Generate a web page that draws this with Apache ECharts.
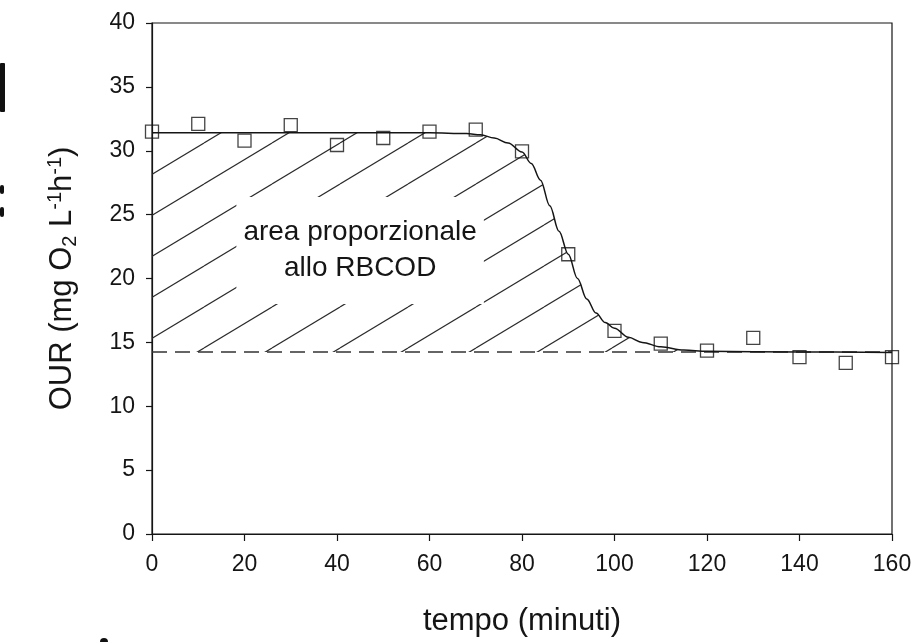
<!DOCTYPE html>
<html>
<head>
<meta charset="utf-8">
<script src="https://cdn.jsdelivr.net/npm/echarts@6/dist/echarts.min.js"></script>
<style>
  html, body { margin: 0; padding: 0; background: #fff; }
  #chart { width: 916px; height: 642px; }
</style>
</head>
<body>
<div id="chart"></div>
<script>
// Measured oxygen uptake rate (squares)
const timeMin = [0, 10, 20, 30, 40, 50, 60, 70, 80, 90, 100, 110, 120, 130, 140, 150, 160];
const ourMeasured = [31.5, 32.1, 30.8, 32.0, 30.45, 31.0, 31.5, 31.65, 29.95, 21.9, 15.9, 14.9, 14.35, 15.35, 13.85, 13.4, 13.85];

// Fitted OUR curve
const fitTime = [0, 30, 60, 68, 71, 74, 77, 80, 82, 84, 86, 88, 90, 92, 94, 96, 98, 100, 103, 106, 110, 115, 120, 140, 160];
const fitOUR = [31.4, 31.4, 31.4, 31.35, 31.25, 31.0, 30.6, 29.9, 29.0, 27.7, 25.7, 23.7, 21.9, 20.0, 18.4, 17.3, 16.55, 16.1, 15.4, 15.0, 14.65, 14.4, 14.3, 14.25, 14.2];

// Endogenous respiration level (dashed)
const baselineOUR = 14.25;
const baselineTime = [0, 160];

// Axis ranges
const xRange = { min: 0, max: 160, step: 20 };
const yRange = { min: 0, max: 40, step: 5 };

// Annotation anchor (data units) and text
const noteAt = [45, 22.2];
const noteText = 'area proporzionale\nallo RBCOD';

const FONT = '"Liberation Sans", Arial, sans-serif';
const INK = '#151515';

// Diagonal hatch tile for the area between curve and baseline
function hatchTile() {
  const w = 68, h = 41, c0 = 20;
  const cv = document.createElement('canvas');
  cv.width = w; cv.height = h;
  const ctx = cv.getContext('2d');
  ctx.strokeStyle = '#2a2a2a';
  ctx.lineWidth = 1.2;
  for (const c of [c0 - h, c0, c0 + h]) {
    ctx.beginPath();
    ctx.moveTo(0, c);
    ctx.lineTo(w, c - h);
    ctx.stroke();
  }
  return cv;
}

const chart = echarts.init(document.getElementById('chart'), null, { renderer: 'canvas' });

const option = {
  backgroundColor: '#fff',
  animation: false,
  grid: {
    left: 152, right: 24, top: 23, bottom: 106,
    show: true, borderColor: INK, borderWidth: 1.2, backgroundColor: 'transparent'
  },
  xAxis: {
    type: 'value',
    min: xRange.min, max: xRange.max, interval: xRange.step,
    name: 'tempo (minuti)',
    nameLocation: 'middle',
    nameGap: 72,
    nameTextStyle: { fontFamily: FONT, fontSize: 31, color: INK },
    axisLine: { show: true, lineStyle: { color: INK, width: 1.2 } },
    axisTick: { show: true, length: 7, lineStyle: { color: INK, width: 1.2 } },
    axisLabel: { fontFamily: FONT, fontSize: 23, color: INK, margin: 19 },
    splitLine: { show: false }
  },
  yAxis: {
    type: 'value',
    min: yRange.min, max: yRange.max, interval: yRange.step,
    name: '{t|OUR (mg O}{sub|2}{t| L}{sup|-1}{t|h}{sup|-1}{t|)}',
    nameLocation: 'middle',
    nameRotate: 90,
    nameGap: 72,
    nameTextStyle: {
      color: INK,
      rich: {
        t: { fontFamily: FONT, fontSize: 31, color: INK },
        sub: { fontFamily: FONT, fontSize: 20, color: INK, padding: [15, 0, 0, 0] },
        sup: { fontFamily: FONT, fontSize: 20, color: INK, padding: [0, 0, 15, 0] }
      }
    },
    axisLine: { show: true, lineStyle: { color: INK, width: 1.2 } },
    axisTick: { show: true, length: 6, lineStyle: { color: INK, width: 1.2 } },
    axisLabel: { fontFamily: FONT, fontSize: 23, color: INK, margin: 17 },
    splitLine: { show: false }
  },
  series: [
    {
      name: 'hatch',
      type: 'line',
      data: fitTime.map((t, i) => [t, fitOUR[i]]),
      smooth: 0.35,
      smoothMonotone: 'x',
      symbol: 'none',
      lineStyle: { width: 0 },
      areaStyle: { origin: baselineOUR, color: { image: hatchTile(), repeat: 'repeat' }, opacity: 1 },
      z: 1,
      silent: true
    },
    {
      name: 'baseline',
      type: 'line',
      data: baselineTime.map(t => [t, baselineOUR]),
      symbol: 'none',
      lineStyle: { color: '#333', width: 1.4, type: [15, 8] },
      z: 2,
      silent: true
    },
    {
      name: 'fit',
      type: 'line',
      data: fitTime.map((t, i) => [t, fitOUR[i]]),
      smooth: 0.35,
      smoothMonotone: 'x',
      symbol: 'none',
      lineStyle: { color: INK, width: 1.5 },
      z: 3,
      silent: true
    },
    {
      name: 'OUR',
      type: 'scatter',
      data: timeMin.map((t, i) => [t, ourMeasured[i]]),
      symbol: 'rect',
      symbolSize: 13,
      itemStyle: { color: 'rgba(0,0,0,0)', borderColor: INK, borderWidth: 1.3 },
      z: 4
    }
  ]
};

chart.setOption(option);

// Annotation inside the hatched area
const p = chart.convertToPixel({ gridIndex: 0 }, noteAt);
chart.setOption({
  graphic: [
    {
      type: 'text',
      x: p[0], y: p[1],
      z: 10,
      style: {
        text: noteText,
        fontFamily: FONT,
        fontSize: 28,
        lineHeight: 36,
        fill: INK,
        align: 'center',
        verticalAlign: 'middle',
        backgroundColor: '#fff',
        padding: [22, 7, 13, 7]
      }
    },
    // edge marks along the left margin
    { type: 'rect', shape: { x: 0, y: 63, width: 5, height: 49, r: 1 }, style: { fill: '#111' } },
    { type: 'rect', shape: { x: 0, y: 185, width: 4, height: 9, r: 2 }, style: { fill: '#111' } },
    { type: 'rect', shape: { x: 0, y: 207, width: 4, height: 10, r: 2 }, style: { fill: '#111' } },
    { type: 'circle', shape: { cx: 104, cy: 642, r: 4 }, style: { fill: '#111' } }
  ]
});
</script>
</body>
</html>
